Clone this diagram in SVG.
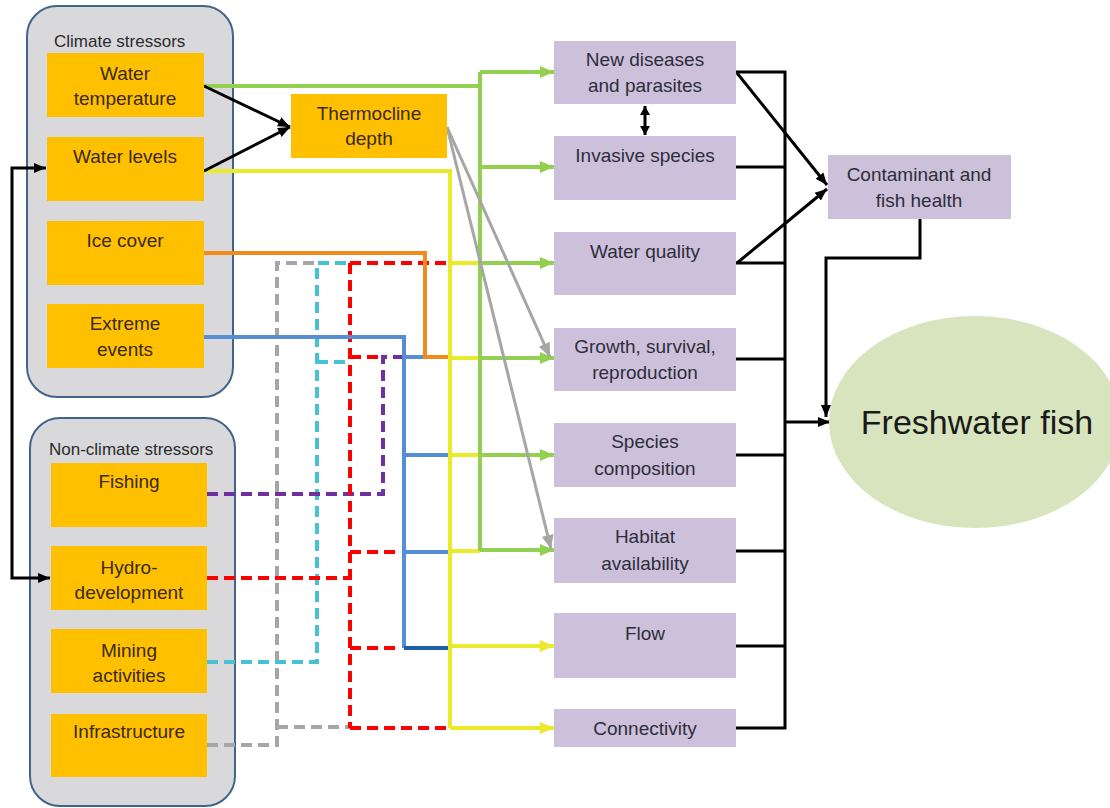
<svg xmlns="http://www.w3.org/2000/svg" width="1110" height="808" viewBox="0 0 1110 808">
<style>
  text { font-family: "Liberation Sans", Arial, sans-serif; text-anchor: middle; }
  .grp { fill: #D9D9DC; stroke: #41648A; stroke-width: 2; }
  .hdr { font-size: 17px; fill: #2b2b2b; text-anchor: start; }
  .stress { fill: #FFC000; }
  .stext { font-size: 19px; fill: #3b2a14; }
  .eff { fill: #CCC0DA; }
  .etext { font-size: 19px; fill: #2e2e3a; }
  .ln { fill: none; stroke-width: 4; }
  .dash { stroke-dasharray: 11 6; }
  .blk { fill: none; stroke: #000; stroke-width: 3; }
  .green { stroke: #92D050; }
  .yellow { stroke: #E8EA2A; }
  .orange { stroke: #F28A1E; }
  .blue { stroke: #558ED5; }
  .dblue { stroke: #1F5FA8; }
  .red { stroke: #FF0000; }
  .purple { stroke: #7030A0; }
  .cyan { stroke: #45C3D6; }
  .gray { stroke: #A6A6A6; }
</style>
<defs>
  <marker id="aG" markerUnits="userSpaceOnUse" markerWidth="16" markerHeight="14" refX="14" refY="7" orient="auto">
    <path d="M0,1 L14,7 L0,13 Z" fill="#92D050"/>
  </marker>
  <marker id="aY" markerUnits="userSpaceOnUse" markerWidth="16" markerHeight="14" refX="14" refY="7" orient="auto">
    <path d="M0,1 L14,7 L0,13 Z" fill="#E8EA2A"/>
  </marker>
  <marker id="aGr" markerUnits="userSpaceOnUse" markerWidth="16" markerHeight="14" refX="14" refY="7" orient="auto">
    <path d="M0,1 L14,7 L0,13 Z" fill="#A6A6A6"/>
  </marker>
  <marker id="aK" markerUnits="userSpaceOnUse" markerWidth="14" markerHeight="12" refX="12" refY="6" orient="auto">
    <path d="M0,1 L12,6 L0,11 Z" fill="#000"/>
  </marker>
  <marker id="aKs" markerUnits="userSpaceOnUse" markerWidth="14" markerHeight="12" refX="12" refY="6" orient="auto-start-reverse">
    <path d="M0,1 L12,6 L0,11 Z" fill="#000"/>
  </marker>
  <marker id="aKd" markerUnits="userSpaceOnUse" markerWidth="12" markerHeight="12" refX="9" refY="6" orient="auto-start-reverse">
    <path d="M0,1 L9,6 L0,11 Z" fill="#000"/>
  </marker>
</defs>

<rect width="1110" height="808" fill="#FFFFFF"/>

<g id="climate-group">
  <rect class="grp" x="27" y="6" width="206" height="391" rx="30" ry="30"/>
  <text class="hdr" x="54" y="47">Climate stressors</text>
</g>
<g id="nonclimate-group">
  <rect class="grp" x="30" y="418" width="205" height="388" rx="30" ry="30"/>
  <text class="hdr" x="49" y="455">Non-climate stressors</text>
</g>

<g id="connectors">
  <path class="ln dash gray" d="M207 745 H277 V263 H317"/>
  <path class="ln dash gray" d="M277 727 H350"/>
  <path class="ln dash cyan" d="M207 662 H317 V263 H350"/>
  <path class="ln dash cyan" d="M317 362 H350"/>
  <path class="ln dash purple" d="M207 494 H383 V357 H404"/>
  <path class="ln dash red" d="M207 578 H350"/>
  <path class="ln dash red" d="M350 263 V728"/>
  <path class="ln dash red" d="M350 263 H447"/>
  <path class="ln dash red" d="M350 357 H383"/>
  <path class="ln dash red" d="M350 552 H398"/>
  <path class="ln dash red" d="M350 648 H398"/>
  <path class="ln dash red" d="M350 728 H448"/>
  <path class="ln blue" d="M204 337 H404 V648"/>
  <path class="ln blue" d="M404 357 H425"/>
  <path class="ln blue" d="M404 455 H450"/>
  <path class="ln blue" d="M404 552 H450"/>
  <path class="ln dblue" d="M404 648 H450"/>
  <path class="ln orange" d="M204 253 H425 V357 H450"/>
  <path class="ln yellow" d="M204 171 H450 V728"/>
  <path class="ln yellow" d="M450 263 H480"/>
  <path class="ln yellow" d="M450 358 H480"/>
  <path class="ln yellow" d="M450 455 H480"/>
  <path class="ln yellow" d="M450 551 H480"/>
  <path class="ln yellow" d="M450 646 H554" marker-end="url(#aY)"/>
  <path class="ln yellow" d="M450 728 H554" marker-end="url(#aY)"/>
  <path class="ln green" d="M204 86 H480"/>
  <path class="ln green" d="M480 72 V551"/>
  <path class="ln green" d="M480 72 H554" marker-end="url(#aG)"/>
  <path class="ln green" d="M480 167 H554" marker-end="url(#aG)"/>
  <path class="ln green" d="M480 263 H554" marker-end="url(#aG)"/>
  <path class="ln green" d="M480 358 H554" marker-end="url(#aG)"/>
  <path class="ln green" d="M480 455 H554" marker-end="url(#aG)"/>
  <path class="ln green" d="M480 550 H554" marker-end="url(#aG)"/>
  <path class="gray" fill="none" stroke-width="3" d="M447 127 L550 357" marker-end="url(#aGr)"/>
  <path class="gray" fill="none" stroke-width="3" d="M447 127 L551 549" marker-end="url(#aGr)"/>
  <path class="blk" d="M204 86 L290 127" marker-end="url(#aK)"/>
  <path class="blk" d="M204 171 L290 127" marker-end="url(#aK)"/>
  <path class="blk" d="M46 168 H12 V578 H50" marker-start="url(#aKs)" marker-end="url(#aK)"/>
  <path class="blk" d="M645 106 V135" marker-start="url(#aKd)" marker-end="url(#aKd)"/>
  <path class="blk" d="M736 72 H785 V728 H736"/>
  <path class="blk" d="M736 167 H785"/>
  <path class="blk" d="M736 263 H785"/>
  <path class="blk" d="M736 359 H785"/>
  <path class="blk" d="M736 455 H785"/>
  <path class="blk" d="M736 551 H785"/>
  <path class="blk" d="M736 646 H785"/>
  <path class="blk" d="M785 422 H830" marker-end="url(#aK)"/>
  <path class="blk" d="M737 73 L827 185" marker-end="url(#aK)"/>
  <path class="blk" d="M737 263 L827 189" marker-end="url(#aK)"/>
  <path class="blk" d="M920 219 V258 H826 V417" marker-end="url(#aK)"/>
</g>

<g id="water-temperature">
  <rect class="stress" x="47" y="53" width="157" height="64"/>
  <text class="stext" x="125" y="80">Water</text>
  <text class="stext" x="125" y="105">temperature</text>
</g>
<g id="water-levels">
  <rect class="stress" x="47" y="137" width="157" height="64"/>
  <text class="stext" x="125" y="163">Water levels</text>
</g>
<g id="ice-cover">
  <rect class="stress" x="47" y="221" width="157" height="64"/>
  <text class="stext" x="125" y="247">Ice cover</text>
</g>
<g id="extreme-events">
  <rect class="stress" x="47" y="304" width="157" height="64"/>
  <text class="stext" x="125" y="330">Extreme</text>
  <text class="stext" x="125" y="356">events</text>
</g>
<g id="fishing">
  <rect class="stress" x="51" y="463" width="156" height="64"/>
  <text class="stext" x="129" y="488">Fishing</text>
</g>
<g id="hydro-development">
  <rect class="stress" x="51" y="546" width="156" height="64"/>
  <text class="stext" x="129" y="574">Hydro-</text>
  <text class="stext" x="129" y="599">development</text>
</g>
<g id="mining-activities">
  <rect class="stress" x="51" y="629" width="156" height="64"/>
  <text class="stext" x="129" y="657">Mining</text>
  <text class="stext" x="129" y="682">activities</text>
</g>
<g id="infrastructure">
  <rect class="stress" x="51" y="714" width="156" height="63"/>
  <text class="stext" x="129" y="738">Infrastructure</text>
</g>
<g id="thermocline-depth">
  <rect class="stress" x="291" y="94" width="156" height="64"/>
  <text class="stext" x="369" y="120">Thermocline</text>
  <text class="stext" x="369" y="145">depth</text>
</g>

<g id="new-diseases">
  <rect class="eff" x="554" y="41" width="182" height="63"/>
  <text class="etext" x="645" y="66">New diseases</text>
  <text class="etext" x="645" y="92">and parasites</text>
</g>
<g id="invasive-species">
  <rect class="eff" x="554" y="136" width="182" height="64"/>
  <text class="etext" x="645" y="162">Invasive species</text>
</g>
<g id="water-quality">
  <rect class="eff" x="554" y="232" width="182" height="63"/>
  <text class="etext" x="645" y="258">Water quality</text>
</g>
<g id="growth">
  <rect class="eff" x="554" y="328" width="182" height="63"/>
  <text class="etext" x="645" y="353">Growth, survival,</text>
  <text class="etext" x="645" y="379">reproduction</text>
</g>
<g id="species-composition">
  <rect class="eff" x="554" y="423" width="182" height="64"/>
  <text class="etext" x="645" y="448">Species</text>
  <text class="etext" x="645" y="475">composition</text>
</g>
<g id="habitat-availability">
  <rect class="eff" x="554" y="518" width="182" height="65"/>
  <text class="etext" x="645" y="543">Habitat</text>
  <text class="etext" x="645" y="570">availability</text>
</g>
<g id="flow">
  <rect class="eff" x="554" y="613" width="182" height="65"/>
  <text class="etext" x="645" y="640">Flow</text>
</g>
<g id="connectivity">
  <rect class="eff" x="554" y="709" width="182" height="38"/>
  <text class="etext" x="645" y="735">Connectivity</text>
</g>
<g id="contaminant-fish-health">
  <rect class="eff" x="828" y="155" width="183" height="64"/>
  <text class="etext" x="919" y="181">Contaminant and</text>
  <text class="etext" x="919" y="207">fish health</text>
</g>
<g id="freshwater-fish">
  <ellipse cx="975" cy="422" rx="146" ry="106" fill="#D7E4BD"/>
  <text x="977" y="434" font-size="34" fill="#1a1a1a">Freshwater fish</text>
</g>
</svg>
